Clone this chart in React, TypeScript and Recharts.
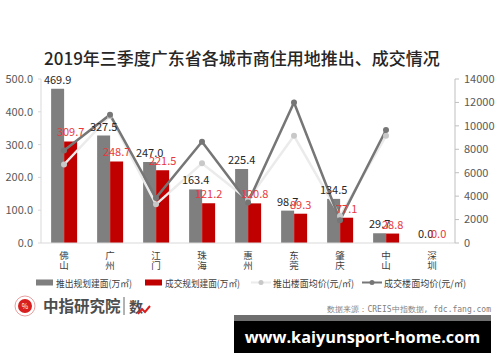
import React from 'react';
import { ComposedChart, Bar, Line, XAxis, YAxis, LabelList } from 'recharts';

const cities = ['佛山', '广州', '江门', '珠海', '惠州', '东莞', '肇庆', '中山', '深圳'];
const launchedArea = [469.9, 327.5, 247.0, 163.4, 225.4, 98.7, 134.5, 29.7, 0.0];
const soldArea = [309.7, 248.7, 221.5, 121.2, 120.8, 89.3, 77.1, 28.8, 0.0];
const launchedPrice = [6700, 10850, 3300, 6800, 3700, 9150, 2300, 9150, null];
const soldPrice = [7900, 10950, 3850, 8650, 3450, 12000, 1950, 9650, null];
const leftTicks = [0, 100, 200, 300, 400, 500];
const rightTicks = [0, 2000, 4000, 6000, 8000, 10000, 12000, 14000];

const data = cities.map((city, i) => ({
  city,
  launchedArea: launchedArea[i],
  soldArea: soldArea[i],
  launchedPrice: launchedPrice[i],
  soldPrice: soldPrice[i],
}));

const FONT = '"Noto Sans CJK SC", "Noto Sans", sans-serif';
const GREY = '#7f7f7f';
const RED = '#c00000';
const DARK_LINE = '#767676';
const LIGHT_LINE = '#ebebeb';

// city names are drawn one character per line
const CityTick = (props: any) => {
  const { x, y, payload } = props;
  const chars = String(payload.value).split('');
  return (
    <g>
      {chars.map((c: string, i: number) => (
        <text key={i} x={x} y={y + 8 + i * 10} textAnchor="middle" fontSize={9.5} fill="#404040" fontFamily={FONT}>
          {c}
        </text>
      ))}
    </g>
  );
};

// zero-height bars still need their "0.0" label
const tinyForZero = (v: any) => (Number(v) === 0 ? 0.01 : 0);

const legendItems = [
  { name: '推出规划建面(万㎡)', kind: 'bar', color: GREY, x: 36, w: 76 },
  { name: '成交规划建面(万㎡)', kind: 'bar', color: RED, x: 145, w: 75 },
  { name: '推出楼面均价(元/㎡)', kind: 'line', color: LIGHT_LINE, dot: '#c8c8c8', x: 251, w: 81 },
  { name: '成交楼面均价(元/㎡)', kind: 'line', color: DARK_LINE, dot: DARK_LINE, x: 362, w: 82 },
];

export default function App() {
  return (
    <div style={{ position: 'absolute', left: 0, top: 0, width: 500, height: 362, background: '#fff', fontFamily: FONT }}>
      <div style={{ position: 'absolute', left: 0, top: 45, width: 484, textAlign: 'center', fontSize: 17, fontWeight: 500, color: '#262626' }}>
        2019年三季度广东省各城市商住用地推出、成交情况
      </div>
      <ComposedChart
        width={500}
        height={362}
        data={data}
        margin={{ top: 79, right: 5, bottom: 89, left: 1 }}
        barCategoryGap="22%"
        barGap={0}
      >
        <XAxis dataKey="city" height={30} tick={<CityTick />} tickLine={false} axisLine={{ stroke: '#d9d9d9' }} interval={0} />
        <YAxis
          yAxisId="left"
          width={40}
          domain={[0, 500]}
          ticks={leftTicks}
          tickFormatter={(v: number) => v.toFixed(1)}
          tick={{ fontSize: 11, fill: '#595959', fontFamily: FONT }}
          axisLine={{ stroke: '#d9d9d9' }}
          tickLine={{ stroke: '#d9d9d9' }}
          tickSize={3}
          tickMargin={5}
        />
        <YAxis
          yAxisId="right"
          orientation="right"
          width={40}
          domain={[0, 14000]}
          ticks={rightTicks}
          tick={{ fontSize: 11, fill: '#595959', fontFamily: FONT }}
          axisLine={{ stroke: '#bfbfbf' }}
          tickLine={{ stroke: '#bfbfbf' }}
          tickSize={4}
          tickMargin={5}
        />
        <Bar yAxisId="left" dataKey="launchedArea" fill={GREY} minPointSize={tinyForZero} isAnimationActive={false}>
          <LabelList dataKey="launchedArea" position="top" formatter={(v: any) => Number(v).toFixed(1)} fontSize={11} fill="#262626" fontFamily={FONT} />
        </Bar>
        <Bar yAxisId="left" dataKey="soldArea" fill={RED} minPointSize={tinyForZero} isAnimationActive={false}>
          <LabelList dataKey="soldArea" position="top" formatter={(v: any) => Number(v).toFixed(1)} fontSize={11} fill="#e8383d" fontFamily={FONT} />
        </Bar>
        <Line
          yAxisId="right"
          dataKey="launchedPrice"
          stroke={LIGHT_LINE}
          strokeWidth={2.5}
          dot={{ r: 3, fill: '#c8c8c8', stroke: 'none' }}
          isAnimationActive={false}
        />
        <Line
          yAxisId="right"
          dataKey="soldPrice"
          stroke={DARK_LINE}
          strokeWidth={2.5}
          dot={{ r: 3, fill: DARK_LINE, stroke: 'none' }}
          isAnimationActive={false}
        />
      </ComposedChart>

      <svg style={{ position: 'absolute', left: 0, top: 274 }} width={500} height={18}>
        {legendItems.map((it) => (
          <g key={it.name}>
            {it.kind === 'bar' ? (
              <rect x={it.x} y={5.5} width={17} height={6} fill={it.color} />
            ) : (
              <g>
                <line x1={it.x} x2={it.x + 20} y1={8.5} y2={8.5} stroke={it.color} strokeWidth={2} />
                <circle cx={it.x + 10} cy={8.5} r={2.5} fill={it.dot} />
              </g>
            )}
            <text
              x={it.x + (it.kind === 'bar' ? 20 : 22)}
              y={12.5}
              fontSize={9.5}
              fill="#404040"
              fontFamily={FONT}
              textLength={it.w}
              lengthAdjust="spacingAndGlyphs"
            >
              {it.name}
            </text>
          </g>
        ))}
      </svg>

      <svg style={{ position: 'absolute', left: 0, top: 292 }} width={160} height={28}>
        <circle cx={25} cy={14} r={10} fill="#fff" stroke="#e8a0a0" strokeWidth={1} />
        <circle cx={25} cy={14} r={7} fill="#d81e1e" />
        <text x={25} y={17} textAnchor="middle" fontSize={7} fill="#fff" fontFamily={FONT}>%</text>
        <text x={43} y={20} fontSize={15.5} fontWeight={700} fill="#4d4d4d" fontFamily={FONT}>中指研究院</text>
        <line x1={124} x2={124} y1={5} y2={23} stroke="#666" strokeWidth={1} />
        <text x={129} y={20} fontSize={14} fontWeight={700} fill="#4d4d4d" fontFamily={FONT}>数</text>
        <polyline points="138,22 142,17 145,20 150,14" fill="none" stroke="#d81e1e" strokeWidth={2} />
      </svg>

      <div style={{ position: 'absolute', right: 9, top: 304, fontSize: 8, color: '#7f7f7f', fontFamily: '"DejaVu Sans Mono", monospace', whiteSpace: 'nowrap' }}>
        数据来源：CREIS中指数据, fdc.fang.com
      </div>

      <div style={{ position: 'absolute', left: 234, top: 315, width: 257, height: 6, background: '#6f6f6f' }} />
      <div
        style={{
          position: 'absolute',
          left: 234,
          top: 321,
          width: 257,
          height: 32,
          background: '#000',
          color: '#fff',
          fontFamily: '"Open Sans", "DejaVu Sans", sans-serif',
          fontWeight: 700,
          fontSize: 16.3,
          lineHeight: '32px',
          textAlign: 'center',
          whiteSpace: 'nowrap',
        }}
      >
        www.kaiyunsport-home.com
      </div>
    </div>
  );
}
